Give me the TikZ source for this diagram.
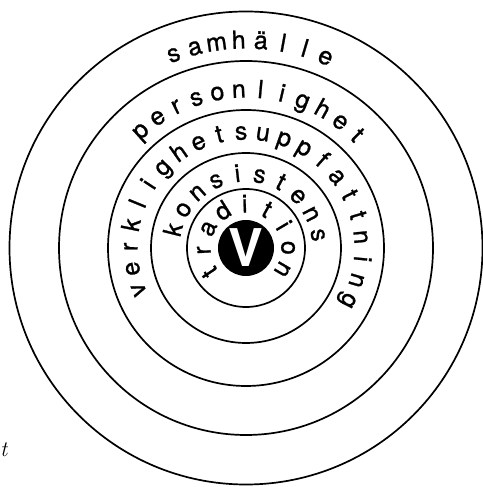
\documentclass[tikz,border=0pt]{standalone}
\usepackage{fontspec}
\newfontfamily\heros[RawFeature={embolden=1.0}]{TeX Gyre Heros}
\newfontfamily\herosb{TeX Gyre Heros}
\tikzset{
  ring/.style={circle, draw=black, line width=1.7pt, inner sep=0pt, fill=none},
  letter/.style={anchor=base, inner sep=0pt, font=\heros\fontsize{25}{25}\selectfont},
  vdisk/.style={circle, fill=black, inner sep=0pt, minimum size=56pt, text=white,
    font=\herosb\bfseries\fontsize{52}{52}\selectfont},
}
\newcommand\ringword[5]{%
  \foreach \l [count=\i] in {#5} {%
    \pgfmathsetmacro\ang{#3-(\i-1)*#4}%
    \node[letter, rotate=\ang-90] (#1\i) at ([shift={(\ang:#2)}]c) {\l};
  }}
\begin{document}
\begin{tikzpicture}[x=1pt,y=1pt]
\useasboundingbox (0,0) rectangle (482,487);
\coordinate (c) at (246,239);
\node[ring, minimum size=473pt] (r1) at (c) {};
\node[ring, minimum size=374pt] (r2) at (c) {};
\node[ring, minimum size=276pt] (r3) at (c) {};
\node[ring, minimum size=190pt] (r4) at (c) {};
\node[ring, minimum size=118pt] (r5) at (c) {};
\node[vdisk] (v) at (c) {V};
\ringword{sam}{199.5}{110.5}{6.16}{s,a,m,h,ä,l,l,e}
\ringword{per}{150.5}{132}{7.88}{p,e,r,s,o,n,l,i,g,h,e,t}
\ringword{ver}{108.5}{201.2}{10.876}{v,e,r,k,l,i,g,h,e,t,s,u,p,p,f,a,t,t,n,i,n,g}
\ringword{kon}{66.5}{165.8}{17.29}{k,o,n,s,i,s,t,e,n,s}
\ringword{tra}{35.5}{213.7}{30.5}{t,r,a,d,i,t,i,o,n}
\node[anchor=west, inner sep=0pt, font=\itshape\fontsize{22}{22}\selectfont] (t) at (0,37) {t};
\end{tikzpicture}
\end{document}
